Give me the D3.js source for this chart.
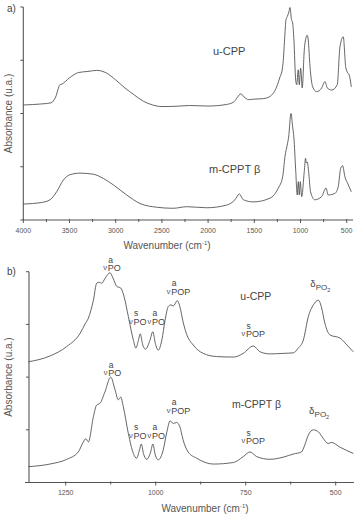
<!DOCTYPE html>
<html><head><meta charset="utf-8">
<script src="https://cdn.jsdelivr.net/npm/d3@7/dist/d3.min.js"></script>
<style>
body{margin:0;background:#fff;}
svg{display:block;font-family:"Liberation Sans",Arial,sans-serif;}
</style></head><body>
<svg id="c" width="356" height="517"></svg>
<script>
// ---- data: [wavenumber (cm-1), absorbance (u.a.)] ----
const panelA_uCPP = [[4000,2.16],[3800,2.18],[3700,2.20],[3650,2.31],[3603,2.54],[3585,2.55],[3500,2.67],[3400,2.77],[3300,2.79],[3206,2.81],[3100,2.76],[3000,2.63],[2900,2.48],[2800,2.35],[2700,2.23],[2600,2.16],[2500,2.13],[2300,2.14],[2200,2.15],[2000,2.14],[1800,2.17],[1720,2.22],[1680,2.31],[1647,2.37],[1610,2.31],[1560,2.26],[1500,2.27],[1400,2.28],[1330,2.32],[1258,2.50],[1219,2.70],[1200,2.80],[1186,3.00],[1170,3.45],[1157,3.76],[1143,3.82],[1125,3.91],[1114,3.99],[1097,3.76],[1085,3.70],[1071,3.38],[1052,2.63],[1041,2.54],[1024,2.82],[1013,2.54],[998,2.85],[981,2.48],[959,3.19],[941,3.42],[927,3.47],[916,3.38],[897,2.88],[868,2.50],[825,2.41],[771,2.48],[735,2.60],[710,2.48],[662,2.44],[602,2.54],[573,3.25],[537,3.44],[511,2.88],[494,2.78],[472,2.72],[450,2.50]];
const panelA_mCPPT = [[4000,0.30],[3800,0.33],[3711,0.38],[3639,0.53],[3567,0.75],[3495,0.85],[3386,0.88],[3242,0.86],[3134,0.78],[3026,0.66],[2881,0.47],[2737,0.31],[2556,0.24],[2377,0.22],[2232,0.25],[2015,0.23],[1799,0.28],[1709,0.38],[1662,0.49],[1619,0.38],[1511,0.34],[1330,0.41],[1240,0.60],[1193,0.81],[1168,1.19],[1140,1.44],[1128,1.56],[1103,2.00],[1085,1.75],[1071,1.54],[1052,0.94],[1035,0.47],[1024,0.72],[1013,0.47],[1002,0.72],[987,0.44],[959,0.91],[945,1.16],[937,1.07],[927,1.09],[912,0.91],[891,0.53],[844,0.38],[771,0.44],[724,0.60],[699,0.47],[627,0.50],[591,0.63],[565,0.97],[544,1.02],[519,0.81],[490,0.69],[450,0.53]];
const panelB_uCPP = [[1354,2.29],[1294,2.40],[1247,2.58],[1210,2.83],[1196,3.01],[1187,3.12],[1173,3.46],[1164,3.78],[1157,3.80],[1150,3.78],[1141,3.87],[1127,3.98],[1118,3.87],[1108,3.72],[1097,3.69],[1088,3.53],[1076,3.15],[1062,2.70],[1055,2.55],[1049,2.67],[1043,2.82],[1036,2.61],[1028,2.53],[1016,2.70],[1008,2.86],[1001,2.64],[993,2.51],[983,2.70],[974,3.08],[965,3.34],[958,3.37],[951,3.35],[940,3.45],[933,3.34],[924,3.05],[915,2.83],[896,2.61],[868,2.45],[831,2.39],[784,2.38],[757,2.45],[729,2.59],[710,2.48],[683,2.44],[646,2.45],[618,2.46],[604,2.55],[590,2.70],[576,3.15],[562,3.37],[548,3.46],[539,3.31],[530,3.02],[516,2.80],[488,2.74],[469,2.61],[451,2.48]];
const panelB_mCPPT = [[1354,0.30],[1294,0.35],[1247,0.44],[1215,0.58],[1201,0.77],[1194,0.83],[1187,0.77],[1173,1.25],[1164,1.47],[1155,1.50],[1141,1.72],[1125,2.00],[1113,1.76],[1104,1.57],[1097,1.62],[1090,1.44],[1076,0.93],[1062,0.55],[1053,0.46],[1045,0.62],[1040,0.73],[1034,0.55],[1025,0.44],[1014,0.58],[1008,0.73],[1001,0.52],[993,0.43],[979,0.62],[969,0.96],[960,1.17],[951,1.12],[942,1.14],[933,1.06],[924,0.81],[910,0.58],[886,0.46],[840,0.35],[784,0.38],[757,0.49],[738,0.58],[719,0.49],[683,0.44],[646,0.48],[618,0.54],[595,0.58],[586,0.71],[576,0.90],[562,1.00],[548,0.96],[535,0.84],[521,0.74],[512,0.76],[488,0.67],[451,0.55]];
const xTicksA = [4000,3500,3000,2500,2000,1500,1000,500];
const xMinorA = [3750,3250,2750,2250,1750,1250,750];
const xTicksB = [1250,1000,750,500];
const xMinorB = [1125,875,625];
const yTicks = [0,1,2,3,4];
// annotations: [wavenumber, absorbance, base, sup, sub]
const annB = [
  [1146,4.01,"ν","a","PO"],[1074,2.99,"ν","s","PO"],[1023,2.99,"ν","a","PO"],[969,3.56,"ν","a","POP"],[762,2.76,"ν","s","POP"],
  [1144,2.02,"ν","a","PO"],[1074,0.83,"ν","s","PO"],[1023,0.83,"ν","a","PO"],[969,1.30,"ν","a","POP"],[762,0.73,"ν","s","POP"]
];
const deltaB = [[571,3.65],[574,1.24]];
const namesA = [[1947,3.10,"u-CPP"],[1990,0.88,"m-CPPT β"]];
const namesB = [[765,3.46,"u-CPP"],[788,1.41,"m-CPPT β"]];

const svg = d3.select("#c");
const ink = "#4a4a4a", axc = "#555";

function panel(cfg){
  const g = svg.append("g");
  const x = d3.scaleLinear().domain(cfg.xd).range(cfg.xr);
  const y = d3.scaleLinear().domain([0,4]).range(cfg.yr);
  g.append("line").attr("x1",cfg.axL).attr("x2",cfg.axR).attr("y1",y(0)).attr("y2",y(0)).attr("stroke",axc).attr("stroke-width",1.1);
  g.append("line").attr("x1",cfg.yx).attr("x2",cfg.yx).attr("y1",y(0)).attr("y2",y(4)).attr("stroke",axc).attr("stroke-width",1.1);
  g.selectAll(".yt").data(yTicks).join("line").attr("x1",cfg.yx-3).attr("x2",cfg.yx).attr("y1",d=>y(d)).attr("y2",d=>y(d)).attr("stroke",axc);
  g.selectAll(".xt").data(cfg.ticks).join("line").attr("x1",d=>x(d)).attr("x2",d=>x(d)).attr("y1",y(0)-1).attr("y2",y(0)+3).attr("stroke",axc);
  g.selectAll(".xm").data(cfg.minor).join("line").attr("x1",d=>x(d)).attr("x2",d=>x(d)).attr("y1",y(0)-1).attr("y2",y(0)+2).attr("stroke",axc);
  g.selectAll(".xl").data(cfg.ticks).join("text").attr("x",d=>x(d)).attr("y",y(0)+12.5).attr("text-anchor","middle")
    .attr("font-size",7).attr("fill","#555").text(d=>d);
  const tt = g.append("text").attr("x",cfg.titleX).attr("y",y(0)+29).attr("text-anchor","middle").attr("font-size",10).attr("fill","#555");
  tt.append("tspan").text("Wavenumber (cm");
  tt.append("tspan").attr("font-size",6).attr("dy",-4).text("-1");
  tt.append("tspan").attr("dy",4).text(")");
  g.append("text").attr("transform",`translate(${cfg.absX},${(y(0)+y(4))/2}) rotate(-90)`).attr("text-anchor","middle")
    .attr("font-size",10).attr("fill","#555").text("Absorbance (u.a.)");
  g.append("text").attr("x",7).attr("y",cfg.letterY).attr("font-size",10).attr("fill","#444").text(cfg.letter);
  const line = d3.line().x(d=>x(d[0])).y(d=>y(d[1])).curve(d3.curveMonotoneX);
  cfg.series.forEach(s=>{
    g.append("path").attr("d",line(s)).attr("fill","none").attr("stroke",ink).attr("stroke-width",0.85);
  });
  return {g,x,y};
}

const A = panel({xd:[4000,450],xr:[23.3,351.3],yr:[220,7],axL:23,axR:353,yx:23.3,ticks:xTicksA,minor:xMinorA,
  titleX:167,absX:12,letter:"a)",letterY:12,series:[panelA_uCPP,panelA_mCPPT]});
const B = panel({xd:[1360,450],xr:[26.1,353.7],yr:[482.5,271.7],axL:25,axR:354,yx:29,ticks:xTicksB,minor:xMinorB,
  titleX:205,absX:12,letter:"b)",letterY:275,series:[panelB_uCPP,panelB_mCPPT]});

namesA.forEach(n=>{
  A.g.append("text").attr("x",A.x(n[0])).attr("y",A.y(n[1])).attr("font-size",11).attr("fill","#444").text(n[2]);
});
namesB.forEach(n=>{
  B.g.append("text").attr("x",B.x(n[0])).attr("y",B.y(n[1])).attr("font-size",10.5).attr("fill","#444").text(n[2]);
});
annB.forEach(a=>{
  const ax = B.x(a[0]), ay = B.y(a[1]);
  B.g.append("text").attr("x",ax).attr("y",ay-1).attr("font-size",7.5).attr("fill","#444").text(a[2]);
  B.g.append("text").attr("x",ax+5).attr("y",ay-8.5).attr("font-size",8.5).attr("fill","#444").text(a[3]);
  B.g.append("text").attr("x",ax+4.5).attr("y",ay).attr("font-size",9).attr("fill","#444").text(a[4]);
});
deltaB.forEach(a=>{
  const ax = B.x(a[0]), ay = B.y(a[1]);
  B.g.append("text").attr("x",ax).attr("y",ay-3).attr("font-size",9.5).attr("fill","#444").text("δ");
  B.g.append("text").attr("x",ax+5.5).attr("y",ay).attr("font-size",8).attr("fill","#444").text("PO")
    .append("tspan").attr("font-size",5.5).attr("dy",1.5).text("2");
});
</script></body></html>
